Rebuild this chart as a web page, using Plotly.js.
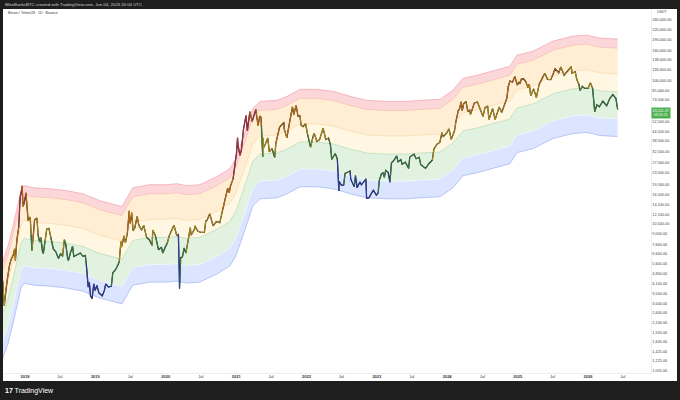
<!DOCTYPE html>
<html><head><meta charset="utf-8">
<script src="https://cdn.plot.ly/plotly-3.0.1.min.js"></script>
<style>html,body{margin:0;padding:0;background:#1e1e1e;} #chart{width:680px;height:400px;}</style>
</head><body><div id="chart"></div>
<script>
// ---- price series (BTC/USDT, Binance) ----
const priceDates = [
'2017-08-17','2017-08-24','2017-09-01','2017-09-08','2017-09-15','2017-09-22','2017-10-01','2017-10-12','2017-10-20','2017-11-01','2017-11-08','2017-11-12','2017-11-20','2017-11-29','2017-12-07','2017-12-12','2017-12-17','2017-12-22','2017-12-28',
'2018-01-06','2018-01-10','2018-01-17','2018-01-28','2018-02-02','2018-02-06','2018-02-12','2018-02-20','2018-03-04','2018-03-10','2018-03-18','2018-03-24','2018-04-01','2018-04-06','2018-04-15','2018-04-24','2018-05-05','2018-05-15','2018-05-28','2018-06-10','2018-06-24','2018-07-05','2018-07-15','2018-07-24','2018-08-01','2018-08-10','2018-08-14','2018-08-25','2018-09-05','2018-09-11','2018-09-25','2018-10-10','2018-10-15','2018-10-30','2018-11-10','2018-11-15','2018-11-20','2018-11-25','2018-12-01','2018-12-07','2018-12-15','2018-12-24','2018-12-31',
'2019-01-09','2019-01-20','2019-02-06','2019-02-17','2019-02-24','2019-03-10','2019-03-25','2019-04-02','2019-04-15','2019-04-25','2019-05-05','2019-05-14','2019-05-17','2019-05-30','2019-06-06','2019-06-16','2019-06-26','2019-06-27','2019-07-01','2019-07-09','2019-07-16','2019-07-25','2019-08-06','2019-08-15','2019-08-29','2019-09-09','2019-09-24','2019-10-08','2019-10-23','2019-10-26','2019-11-08','2019-11-22','2019-11-25','2019-12-10','2019-12-17','2019-12-30',
'2020-01-10','2020-01-19','2020-02-01','2020-02-13','2020-02-27','2020-03-07','2020-03-12','2020-03-13','2020-03-19','2020-03-28','2020-04-06','2020-04-15','2020-04-30','2020-05-08','2020-05-12','2020-05-30','2020-06-01','2020-06-15','2020-07-01','2020-07-20','2020-07-27','2020-08-02','2020-08-17','2020-09-03','2020-09-20','2020-10-08','2020-10-21','2020-11-05','2020-11-18','2020-11-26','2020-12-01','2020-12-16','2020-12-27',
'2021-01-03','2021-01-08','2021-01-11','2021-01-21','2021-01-28','2021-02-08','2021-02-21','2021-02-28','2021-03-13','2021-03-25','2021-04-13','2021-04-18','2021-04-25','2021-05-03','2021-05-10','2021-05-12','2021-05-19','2021-05-20','2021-05-23','2021-06-01','2021-06-14','2021-06-22','2021-07-06','2021-07-20','2021-07-26','2021-08-14','2021-08-23','2021-09-06','2021-09-07','2021-09-21','2021-10-01','2021-10-20','2021-10-27','2021-11-08','2021-11-10','2021-11-18','2021-11-28','2021-12-04','2021-12-14','2021-12-27',
'2022-01-06','2022-01-22','2022-02-04','2022-02-10','2022-02-24','2022-03-10','2022-03-28','2022-04-11','2022-04-25','2022-05-05','2022-05-12','2022-05-30','2022-06-10','2022-06-13','2022-06-18','2022-06-19','2022-07-01','2022-07-13','2022-07-20','2022-08-10','2022-08-15','2022-08-19','2022-09-06','2022-09-12','2022-09-21','2022-10-05','2022-10-13','2022-10-29','2022-11-05','2022-11-09','2022-11-21','2022-12-05','2022-12-14','2022-12-30',
'2023-01-08','2023-01-14','2023-01-25','2023-02-02','2023-02-09','2023-02-16','2023-03-01','2023-03-10','2023-03-18','2023-03-29','2023-04-14','2023-04-21','2023-05-06','2023-05-12','2023-05-29','2023-06-15','2023-06-21','2023-07-13','2023-07-24','2023-08-09','2023-08-17','2023-09-11','2023-09-28','2023-10-16','2023-10-24','2023-11-09','2023-11-24','2023-12-05','2023-12-11','2023-12-27',
'2024-01-11','2024-01-22','2024-02-08','2024-02-15','2024-02-28','2024-03-05','2024-03-14','2024-03-19','2024-03-27','2024-04-08','2024-04-17','2024-04-27','2024-05-01','2024-05-15','2024-05-21','2024-06-06','2024-06-24','2024-07-05','2024-07-15','2024-07-29','2024-08-05','2024-08-24','2024-09-06','2024-09-27','2024-10-10','2024-10-29','2024-11-06','2024-11-13','2024-11-22','2024-12-05','2024-12-17','2024-12-30',
'2025-01-07','2025-01-13','2025-01-20','2025-01-31','2025-02-12','2025-02-25','2025-03-02','2025-03-10','2025-03-25','2025-04-08','2025-04-22','2025-05-08','2025-05-22','2025-06-05','2025-06-22','2025-07-03','2025-07-14','2025-08-02','2025-08-13','2025-08-30','2025-09-15','2025-10-06','2025-10-10','2025-10-27','2025-11-04','2025-11-14','2025-11-21','2025-12-02','2025-12-15',
'2026-01-01','2026-01-14','2026-01-25','2026-02-05','2026-02-16','2026-03-01','2026-03-19','2026-04-08','2026-04-24','2026-05-10','2026-05-26','2026-06-04'
];
const priceValues = [
4285,4310,4700,4200,2900,3630,4380,5440,5990,6450,7110,5900,8200,9900,16000,17000,19100,13800,14500,
17100,14000,11100,11700,8800,6900,8500,11200,11500,8800,7900,8500,6900,6600,8000,9700,9800,8500,7100,6780,6100,6600,6300,8200,7600,6150,5900,6700,7400,6300,6450,6550,6650,6300,6400,5600,4500,3900,4200,3400,3250,4100,3700,
4000,3550,3400,3700,4100,3900,3950,4900,5100,5400,5800,8000,7300,8700,7800,9000,12900,11200,10600,12550,9400,9900,11800,10300,9500,10300,8500,8200,7500,9550,8800,7300,7000,7300,6650,7300,
7800,8700,9400,10300,8800,8900,4900,3800,6200,6250,7200,6650,8600,9900,8800,9700,10200,9400,9200,9200,11000,11100,12300,10200,10900,10700,12800,15600,18400,17100,18800,21300,26300,
32200,40600,35400,30800,33500,46400,57500,45200,61200,52300,63500,56100,49000,57000,55900,49000,30000,40600,34700,36700,40500,32500,34200,29800,37200,47800,49500,51800,46800,40500,48100,65900,58400,67500,65000,56900,57200,49200,48300,50700,
43100,35000,41500,43500,38300,39400,47100,39500,40400,36500,28900,31700,29100,22500,17600,20500,19300,19300,23200,23900,24100,21100,18800,22400,18500,20300,19400,20600,21300,15700,15800,17100,17800,16500,
17100,20900,23000,23400,21800,24300,23600,20200,27400,28300,30500,27800,28800,26800,27700,25100,30000,31400,29200,29800,26600,25100,27000,28500,34000,36700,37700,44000,41200,43400,
46600,39500,45300,51800,62500,63700,71400,62000,69400,71600,61300,63100,58300,66200,70100,71100,60300,56600,64800,66800,54000,64200,53900,65800,60300,72700,75600,90400,98900,97000,106100,92700,
96900,94500,102000,102400,97800,88700,94200,78500,87400,76300,93400,103000,111700,101500,101000,109500,119800,112500,123300,108400,115300,124000,112000,114000,101000,94500,85000,91000,88000,
88000,96000,88000,61000,68000,66000,72000,67000,75000,80000,75000,63200
];

// ---- band envelope: top edge of the red band ----
const bandTopDates = ['2017-08-17','2017-09-09','2017-10-05','2017-10-31','2017-11-26','2017-12-11','2017-12-27','2018-02-12','2018-05-11','2018-08-07','2018-10-29','2019-01-25','2019-04-23','2019-05-19','2019-06-14','2019-07-15','2019-10-11','2020-01-07','2020-02-28','2020-04-20','2020-06-26','2020-09-22','2020-11-29','2020-12-30','2021-02-05','2021-03-03','2021-03-29','2021-05-05','2021-08-01','2021-09-22','2021-11-28','2022-02-24','2022-05-19','2022-08-15','2022-11-11','2023-02-23','2023-06-07','2023-08-13','2023-11-25','2024-01-31','2024-03-23','2024-06-04','2024-08-26','2024-11-22','2024-12-28','2025-03-22','2025-07-03','2025-10-15','2025-12-27','2026-03-04','2026-06-04'];
const bandTopValues = [4860,5870,7430,10190,14400,17680,19130,18530,18240,17680,16860,15100,14100,13800,15830,18530,19430,19430,19730,19130,19430,22030,24990,29260,40090,50120,64310,71800,72950,77680,86760,86760,84070,77680,72950,71800,71800,72950,74110,85400,103150,108140,115170,124600,148200,157800,184700,199900,203000,193700,190700];
// band edges as fractions of the top edge (top red, red/orange, orange/yellow, yellow/green, green/blue, bottom blue)
const bandLevels = [1, 0.868, 0.581, 0.4375, 0.286, 0.217];

// ---- axis ticks ----
const yTickValues = [260000,220000,190000,160000,138000,118000,100000,85000,73500,52500,44500,38500,32500,27500,23500,19500,16500,14100,12100,10500,9000,7600,6600,5600,4800,4100,3500,3000,2600,2240,1920,1645,1425,1225,1055];
const xTickDates = ['2018-01-01','2018-07-01','2019-01-01','2019-07-01','2020-01-01','2020-07-01','2021-01-01','2021-07-01','2022-01-01','2022-07-01','2023-01-01','2023-07-01','2024-01-01','2024-07-01','2025-01-01','2025-07-01','2026-01-01','2026-07-01'];
const xTickLabels = ['2018','Jul','2019','Jul','2020','Jul','2021','Jul','2022','Jul','2023','Jul','2024','Jul','2025','Jul','2026','Jul'];
const lastPriceText = '63,241.37';
const countdownText = '03:55:21';

// ---- styling ----
const bandFill = ['rgba(242,54,69,0.2)','rgba(255,152,0,0.17)','rgba(255,200,60,0.15)','rgba(76,175,80,0.17)','rgba(41,98,255,0.17)'];
const bandLine = ['#f2a0aa','#f6bcb2','#f9d9a8','#b7dbb4','#f5f7ff','#9fb1f3'];
const zoneColor = ['#c2304a','#d2760f','#c29c14','#3a8a3e','#2d40b5'];

const traces = [];
// boundaries from bottom (index 5) to top (index 0) so each fill goes to the one below
for (let k = 5; k >= 0; k--) {
  traces.push({
    x: bandTopDates, y: bandTopValues.map(v => v * bandLevels[k]),
    type: 'scatter', mode: 'lines', hoverinfo: 'skip',
    line: {color: bandLine[k], width: 0.7},
    fill: k === 5 ? 'none' : 'tonexty',
    fillcolor: k === 5 ? undefined : bandFill[k]
  });
}

// zone of each price point (for candle colouring)
const tB = bandTopDates.map(d => Date.parse(d));
function topAt(t) {
  if (t <= tB[0]) return bandTopValues[0];
  for (let i = 0; i < tB.length - 1; i++) {
    if (t <= tB[i + 1]) {
      const f = (t - tB[i]) / (tB[i + 1] - tB[i]);
      return Math.pow(10, Math.log10(bandTopValues[i]) * (1 - f) + Math.log10(bandTopValues[i + 1]) * f);
    }
  }
  return bandTopValues[bandTopValues.length - 1];
}
const zones = priceDates.map((d, i) => {
  const r = priceValues[i] / topAt(Date.parse(d));
  if (r >= bandLevels[1]) return 0;
  if (r >= bandLevels[2]) return 1;
  if (r >= bandLevels[3]) return 2;
  if (r >= bandLevels[4]) return 3;
  return 4;
});

// dark outline of the candles
traces.push({x: priceDates, y: priceValues, type: 'scatter', mode: 'lines', hoverinfo: 'skip',
  line: {color: '#222222', width: 1.3}});
for (let z = 0; z < 5; z++) {
  const xs = [], ys = [];
  let last = -2;
  for (let i = 1; i < priceDates.length; i++) {
    if (zones[i] !== z) continue;
    if (last !== i - 1) {
      if (xs.length) { xs.push(null); ys.push(null); }
      xs.push(priceDates[i - 1]); ys.push(priceValues[i - 1]);
    }
    xs.push(priceDates[i]); ys.push(priceValues[i]);
    last = i;
  }
  traces.push({x: xs, y: ys, type: 'scatter', mode: 'lines', hoverinfo: 'skip', connectgaps: false,
    line: {color: zoneColor[z], width: 0.9}});
}

const fmt = v => v.toLocaleString('en-US', {minimumFractionDigits: 2, maximumFractionDigits: 2});
const FONT = 'Liberation Sans, Arial, sans-serif';
const lastPrice = priceValues[priceValues.length - 1];

const layout = {
  width: 680, height: 400,
  margin: {l: 3, r: 29, t: 9, b: 27, pad: 0},
  paper_bgcolor: '#1e1e1e', plot_bgcolor: '#ffffff',
  showlegend: false,
  font: {family: FONT},
  xaxis: {type: 'date', range: ['2017-09-08 19:00', '2026-11-24'], tickvals: xTickDates,
    ticktext: xTickLabels.map(t => /^\d{4}$/.test(t) ? '<b>' + t + '</b>' : t), tickangle: 0,
    showgrid: false, zeroline: false, ticks: '', tickfont: {family: FONT, size: 4, color: '#333'},
    showline: true, linecolor: '#e4e4e4', linewidth: 0.6, fixedrange: true},
  yaxis: {type: 'log', side: 'right', range: [3.0057, 5.4855], tickvals: yTickValues,
    ticktext: yTickValues.map(fmt), showgrid: false, zeroline: false, ticks: '',
    tickfont: {family: FONT, size: 3.8, color: '#444'},
    showline: true, linecolor: '#e4e4e4', linewidth: 0.6, fixedrange: true},
  shapes: [
    {type: 'rect', xref: 'paper', yref: 'paper', x0: 0, x1: 1.0401, y0: -0.022, y1: 1,
     fillcolor: '#ffffff', line: {width: 0}, layer: 'below'}
  ],
  annotations: [
    {xref: 'paper', yref: 'paper', x: 0, y: 1.0129, xanchor: 'left', yanchor: 'middle', showarrow: false,
     text: 'MikeBanksBTC created with TradingView.com, Jun 04, 2026 20:04 UTC', font: {family: FONT, size: 4.3, color: '#d2d2d2'}},
    {xref: 'paper', yref: 'paper', x: 0.0046, y: 0.9898, xanchor: 'left', yanchor: 'middle', showarrow: false,
     text: 'Bitcoin / TetherUS · 1D · Binance', font: {family: FONT, size: 3.4, color: '#333'}},
    {xref: 'paper', yref: 'paper', x: 1.006, y: 0.9918, xanchor: 'left', yanchor: 'middle', showarrow: false,
     text: 'USDT', font: {family: FONT, size: 3.6, color: '#444'}},
    {xref: 'paper', yref: 'y', x: 1.0, y: Math.log10(lastPrice), xanchor: 'left', yanchor: 'top', yshift: 3,
     showarrow: false, bgcolor: '#4caf50', borderpad: 0.8, align: 'center',
     text: lastPriceText + '<br>' + countdownText, font: {family: FONT, size: 3.6, color: '#ffffff'}},
    {xref: 'paper', yref: 'paper', x: 0, y: -0.0495, xanchor: 'left', yanchor: 'middle', showarrow: false,
     text: '<b>17</b> TradingView', font: {family: FONT, size: 7, color: '#ffffff'}}
  ]
};

Plotly.newPlot('chart', traces, layout, {staticPlot: true, displayModeBar: false});
</script>
</body></html>
